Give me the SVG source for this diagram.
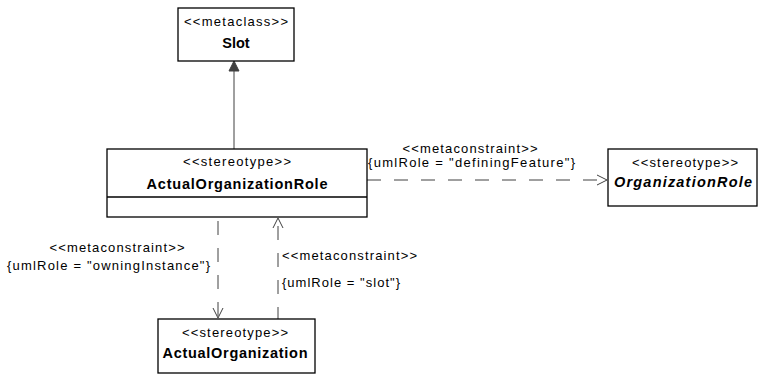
<svg xmlns="http://www.w3.org/2000/svg" width="759" height="374" viewBox="0 0 759 374">
<style>
.box{fill:#fff;stroke:#000;stroke-width:1.3}
.t{font-family:"Liberation Sans",Arial,sans-serif;font-size:13px;fill:#000}
.b{font-family:"Liberation Sans",Arial,sans-serif;font-size:14.5px;font-weight:bold;fill:#000}
.bi{font-family:"Liberation Sans",Arial,sans-serif;font-size:14.5px;font-weight:bold;font-style:italic;fill:#000}
.dash{fill:none;stroke:#404040;stroke-width:1;stroke-dasharray:14 13}
.solid{fill:none;stroke:#404040;stroke-width:1}
.head{fill:none;stroke:#404040;stroke-width:1}
</style>
<rect width="759" height="374" fill="#fff"/>
<g id="connectors">
  <line class="solid" x1="234" y1="149" x2="234" y2="70"/>
  <polygon points="234,61 229,71 239,71" fill="#404040" stroke="#404040"/>
  <line class="dash" x1="367" y1="180" x2="606" y2="180"/>
  <polyline class="head" points="597,175 607,180 597,185"/>
  <line class="dash" x1="218" y1="221" x2="218" y2="317"/>
  <polyline class="head" points="213,308 218,318 223,308"/>
  <line class="dash" x1="278" y1="319" x2="278" y2="219" style="stroke-dashoffset:2"/>
  <polyline class="head" points="273,228 278,218 283,228"/>
  <text class="t" x="470" y="153" text-anchor="middle" textLength="135" lengthAdjust="spacing">&lt;&lt;metaconstraint&gt;&gt;</text>
  <text class="t" x="368" y="167" textLength="207" lengthAdjust="spacing">{umlRole = "definingFeature"}</text>
  <text class="t" x="117" y="252" text-anchor="middle" textLength="135" lengthAdjust="spacing">&lt;&lt;metaconstraint&gt;&gt;</text>
  <text class="t" x="7" y="270" textLength="203" lengthAdjust="spacing">{umlRole = "owningInstance"}</text>
  <text class="t" x="282" y="260" textLength="135" lengthAdjust="spacing">&lt;&lt;metaconstraint&gt;&gt;</text>
  <text class="t" x="282" y="287" textLength="118" lengthAdjust="spacing">{umlRole = "slot"}</text>
</g>
<g id="slot">
  <rect class="box" x="178" y="8" width="116" height="53"/>
  <text class="t" x="236" y="26" text-anchor="middle" textLength="104" lengthAdjust="spacing">&lt;&lt;metaclass&gt;&gt;</text>
  <text class="b" x="236" y="48" text-anchor="middle">Slot</text>
</g>
<g id="actualOrganizationRole">
  <rect class="box" x="107" y="149" width="260" height="68"/>
  <line x1="107" y1="197" x2="367" y2="197" stroke="#000" stroke-width="1.3"/>
  <text class="t" x="237" y="166" text-anchor="middle" textLength="108" lengthAdjust="spacing">&lt;&lt;stereotype&gt;&gt;</text>
  <text class="b" x="237" y="189" text-anchor="middle" textLength="181" lengthAdjust="spacing">ActualOrganizationRole</text>
</g>
<g id="organizationRole">
  <rect class="box" x="608" y="149" width="149" height="57"/>
  <text class="t" x="685" y="167" text-anchor="middle" textLength="106" lengthAdjust="spacing">&lt;&lt;stereotype&gt;&gt;</text>
  <text class="bi" x="683" y="187" text-anchor="middle" textLength="138" lengthAdjust="spacing">OrganizationRole</text>
</g>
<g id="actualOrganization">
  <rect class="box" x="158" y="319" width="157" height="54"/>
  <text class="t" x="235" y="337" text-anchor="middle" textLength="106" lengthAdjust="spacing">&lt;&lt;stereotype&gt;&gt;</text>
  <text class="b" x="235" y="358" text-anchor="middle" textLength="145" lengthAdjust="spacing">ActualOrganization</text>
</g>
</svg>
